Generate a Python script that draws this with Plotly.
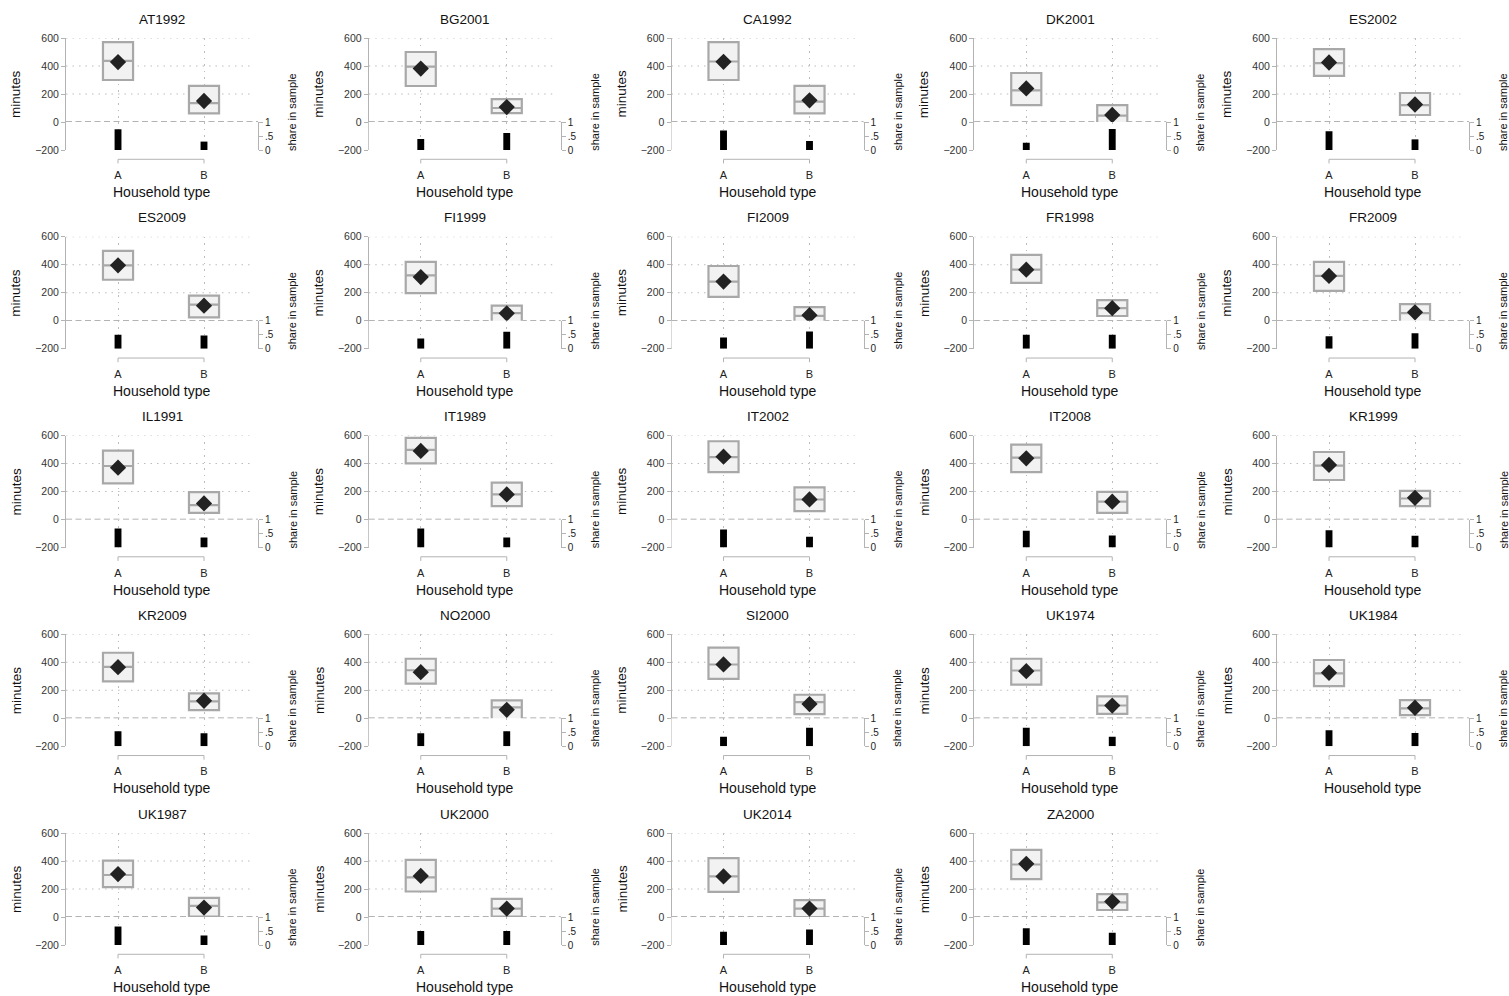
import plotly.graph_objects as go

# ---------------- data ----------------
panels = ["AT1992", "BG2001", "CA1992", "DK2001", "ES2002",
          "ES2009", "FI1999", "FI2009", "FR1998", "FR2009",
          "IL1991", "IT1989", "IT2002", "IT2008", "KR1999",
          "KR2009", "NO2000", "SI2000", "UK1974", "UK1984",
          "UK1987", "UK2000", "UK2014", "ZA2000"]
categories = ["A", "B"]

low_a = [300, 257, 300, 121, 330, 293, 197, 170, 270, 213, 258, 401, 339, 339, 282,
         264, 247, 281, 240, 230, 214, 182, 179, 271]
high_a = [570, 500, 570, 350, 520, 499, 420, 391, 470, 420, 492, 583, 559, 535, 482,
          468, 425, 504, 425, 416, 403, 408, 421, 479]
median_a = [436, 395, 432, 226, 420, 396, 324, 280, 365, 320, 382, 497, 445, 442, 385,
            367, 343, 384, 341, 320, 300, 283, 290, 375]
mean_a = [428, 382, 430, 240, 425, 396, 312, 280, 365, 320, 370, 490, 449, 437, 390,
          365, 329, 384, 336, 325, 307, 293, 290, 380]

low_b = [62, 64, 62, -14, 50, 24, -12, -23, 34, -9, 48, 96, 60, 48, 96,
         58, -19, 29, 31, 23, 2, 2, 0, 50]
high_b = [258, 164, 258, 121, 207, 180, 108, 98, 148, 119, 196, 263, 229, 198, 204,
          178, 127, 168, 156, 130, 137, 130, 121, 164]
median_b = [135, 100, 145, 45, 120, 115, 55, 35, 90, 55, 103, 179, 143, 127, 150,
            120, 77, 115, 91, 70, 79, 60, 60, 105]
mean_b = [150, 107, 155, 50, 125, 108, 53, 40, 90, 60, 115, 179, 143, 127, 155,
          125, 60, 101, 91, 75, 67, 60, 60, 110]

share_a = [0.74, 0.39, 0.70, 0.26, 0.67, 0.50, 0.37, 0.40, 0.50, 0.45, 0.68, 0.68, 0.64, 0.60, 0.62,
           0.54, 0.46, 0.34, 0.66, 0.57, 0.66, 0.50, 0.47, 0.60]
share_b = [0.30, 0.61, 0.32, 0.75, 0.38, 0.47, 0.61, 0.62, 0.50, 0.55, 0.36, 0.36, 0.38, 0.43, 0.42,
           0.46, 0.54, 0.66, 0.34, 0.47, 0.34, 0.50, 0.55, 0.44]

minute_ticks = [-200, 0, 200, 400, 600]
grid_minutes = [200, 400, 600]
share_ticks = [0, 0.5, 1]
share_ticktext = ["0", ".5", "1"]

# ---------------- layout constants (pixels) ----------------
W, H = 1509, 996
COL_W, ROW_H = 302.75, 198.75
PX_LEFT, PX_RIGHT = 66, 258
PX_TOP, PX_ZERO, PX_BOTTOM = 38, 122, 150
FONT = "Liberation Sans, Arial, sans-serif"
AXIS_GRAY = "#b3b3b3"
GRID_GRAY = "#bdbdbd"
GRID_DASH = "1.5px,5px"

fig = go.Figure()
layout = {}
shapes = []
annotations = []

for k, name in enumerate(panels):
    r, c = divmod(k, 5)
    xo, yo = c * COL_W, r * ROW_H
    n = k + 1
    xid = "x" if n == 1 else f"x{n}"
    yid = "y" if n == 1 else f"y{n}"
    sid = f"y{n + 24}"
    xkey = "xaxis" if n == 1 else f"xaxis{n}"
    ykey = "yaxis" if n == 1 else f"yaxis{n}"
    skey = f"yaxis{n + 24}"

    # boxes (range with median line)
    fig.add_trace(go.Box(
        x=categories,
        q1=[low_a[k], low_b[k]], q3=[high_a[k], high_b[k]],
        median=[median_a[k], median_b[k]],
        lowerfence=[low_a[k], low_b[k]], upperfence=[high_a[k], high_b[k]],
        width=0.35, whiskerwidth=0, boxpoints=False,
        fillcolor="#f2f2f2", line=dict(color="#a8a8a8", width=2.2),
        xaxis=xid, yaxis=yid, hoverinfo="skip", showlegend=False))
    # means
    fig.add_trace(go.Scatter(
        x=categories, y=[mean_a[k], mean_b[k]], mode="markers",
        marker=dict(symbol="diamond", size=12.5, color="#222222"),
        xaxis=xid, yaxis=yid, hoverinfo="skip", showlegend=False))
    # shares
    fig.add_trace(go.Bar(
        x=categories, y=[share_a[k], share_b[k]], width=0.08,
        marker=dict(color="black", line=dict(width=0)),
        xaxis=xid, yaxis=sid, hoverinfo="skip", showlegend=False))

    xdom = [(PX_LEFT + xo) / W, (PX_RIGHT + xo) / W]
    ydom = [1 - (PX_BOTTOM + yo) / H, 1 - (PX_TOP + yo) / H]
    sdom = [1 - (PX_BOTTOM + yo) / H, 1 - (PX_ZERO + yo) / H]

    layout[xkey] = dict(
        domain=xdom, anchor=yid, type="category", automargin=False,
        categoryorder="array", categoryarray=categories,
        range=[-0.605, 1.628], showgrid=True, gridcolor=GRID_GRAY, griddash=GRID_DASH,
        gridwidth=1.2, showline=False, ticks="", zeroline=False,
        tickfont=dict(size=11, color="#222", family=FONT), ticklabelstandoff=17,
        fixedrange=True)
    layout[ykey] = dict(
        domain=ydom, anchor=xid, range=[-200, 600], tickvals=minute_ticks,
        automargin=False,
        showgrid=False, zeroline=False, showline=True, linecolor=AXIS_GRAY, linewidth=1,
        ticks="outside", ticklen=4, tickcolor=AXIS_GRAY,
        tickfont=dict(size=10.5, color="#333", family=FONT), fixedrange=True)
    layout[skey] = dict(
        domain=sdom, anchor=xid, side="right", range=[0, 1], automargin=False,
        tickvals=share_ticks, ticktext=share_ticktext,
        showgrid=False, zeroline=False, showline=True, linecolor=AXIS_GRAY, linewidth=1,
        ticks="outside", ticklen=4, tickcolor=AXIS_GRAY,
        tickfont=dict(size=10, color="#222", family=FONT), fixedrange=True)

    # horizontal dotted grid
    for v in grid_minutes:
        shapes.append(dict(type="line", xref=f"{xid} domain", yref=yid,
                           x0=0, x1=0.97, y0=v, y1=v, layer="below",
                           line=dict(color=GRID_GRAY, width=1.2, dash=GRID_DASH)))
    # dashed zero line
    shapes.append(dict(type="line", xref=f"{xid} domain", yref=yid,
                       x0=0, x1=1, y0=0, y1=0, layer="below",
                       line=dict(color="#9a9a9a", width=1.3, dash="6px,3.5px")))
    # x-axis bracket
    shapes.append(dict(type="line", xref=xid, yref=f"{yid} domain",
                       x0=categories[0], x1=categories[-1], y0=-0.083, y1=-0.083,
                       line=dict(color=AXIS_GRAY, width=1)))
    for cat in categories:
        shapes.append(dict(type="line", xref=xid, yref=f"{yid} domain",
                           x0=cat, x1=cat, y0=-0.083, y1=-0.12,
                           line=dict(color=AXIS_GRAY, width=1)))

    cx = (PX_LEFT + PX_RIGHT) / 2 + xo
    annotations.append(dict(text=name, xref="paper", yref="paper",
                            x=cx / W, y=1 - (19 + yo) / H, showarrow=False,
                            xanchor="center", yanchor="middle",
                            font=dict(size=13.5, color="#111", family=FONT)))
    annotations.append(dict(text="minutes", xref="paper", yref="paper",
                            x=(16 + xo) / W, y=1 - (94 + yo) / H, showarrow=False,
                            textangle=-90, xanchor="center", yanchor="middle",
                            font=dict(size=13.5, color="#111", family=FONT)))
    annotations.append(dict(text="share in sample", xref="paper", yref="paper",
                            x=(292 + xo) / W, y=1 - (112 + yo) / H, showarrow=False,
                            textangle=-90, xanchor="center", yanchor="middle",
                            font=dict(size=11, color="#111", family=FONT)))
    annotations.append(dict(text="Household type", xref="paper", yref="paper",
                            x=cx / W, y=1 - (192 + yo) / H, showarrow=False,
                            xanchor="center", yanchor="middle",
                            font=dict(size=14, color="#111", family=FONT)))

fig.update_layout(
    width=W, height=H, margin=dict(l=0, r=0, t=0, b=0, pad=0, autoexpand=False),
    paper_bgcolor="white", plot_bgcolor="white", showlegend=False,
    font=dict(family=FONT), shapes=shapes, annotations=annotations,
    boxmode="overlay", barmode="overlay", **layout)

fig.write_html("out.html", config={"displayModeBar": False},
               post_script="document.body.style.margin='0px';document.body.style.overflow='hidden';")
